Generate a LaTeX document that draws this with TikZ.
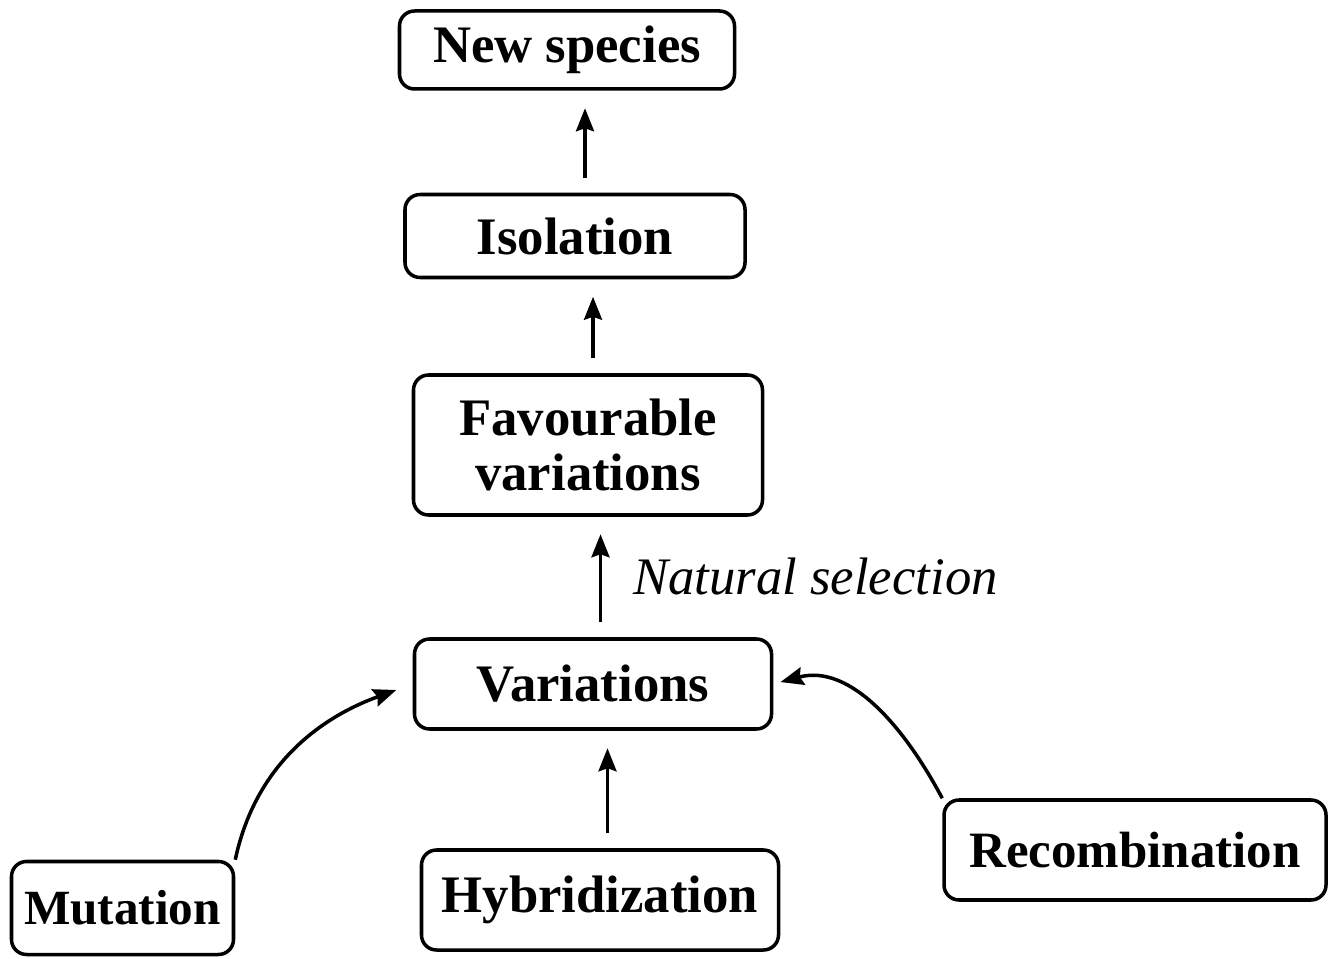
\documentclass[tikz,border=0pt]{standalone}
\usepackage{fontspec}
\setmainfont{Liberation Serif}
\usetikzlibrary{arrows.meta}

\begin{document}
\begin{tikzpicture}[
    box/.style={draw,line width=2pt,rounded corners=0.3cm,align=center,inner sep=0.2cm,
        font=\bfseries\fontsize{30}{31}\selectfont},
    arr/.style={line width=2pt,-{Stealth[length=0.46cm,width=0.36cm,inset=0.06cm]},
        shorten >=0.35cm,shorten <=0.3cm}
    ]
    \useasboundingbox (0,0) rectangle (26.68,-19.18);
    \node[box,minimum width=6.7cm,minimum height=1.56cm] (newsp) at (11.34,-1.0) {New species};
    \node[box,minimum width=6.8cm,minimum height=1.66cm] (isol) at (11.5,-4.72) {Isolation};
    \node[box,minimum width=6.98cm,minimum height=2.8cm] (fav) at (11.76,-8.9) {Favourable\\variations};
    \node[box,minimum width=7.14cm,minimum height=1.8cm] (var) at (11.86,-13.68) {Variations};
    \node[box,minimum width=4.44cm,minimum height=1.86cm,font=\bfseries\fontsize{28}{30}\selectfont] (mut) at (2.45,-18.16) {Mutation};
    \node[box,minimum width=7.14cm,minimum height=2.0cm] (hyb) at (12.0,-18.0) {Hybridization};
    \node[box,minimum width=7.64cm,minimum height=2.0cm,font=\bfseries\fontsize{29}{30}\selectfont] (rec) at (22.7,-17.0) {Recombination};

    \draw[arr] ([xshift=0.2cm]isol.north) -- ([xshift=0.2cm]isol.north |- newsp.south);
    \draw[arr] ([xshift=0.1cm]fav.north) -- ([xshift=0.1cm]fav.north |- isol.south);
    \draw[arr] ([xshift=0.15cm]var.north) -- ([xshift=0.15cm]var.north |- fav.south)
        node[midway,right=0.5cm,font=\itshape\fontsize{30}{31}\selectfont] (ns) {Natural selection};
    \draw[arr] ([xshift=0.15cm]hyb.north) -- ([xshift=0.15cm]hyb.north |- var.south);
    \draw[arr,shorten <=0pt] (mut.north east) to[out=78,in=200] (var.west);
    \draw[arr,shorten <=0pt,shorten >=0.15cm] (rec.north west) to[out=118,in=15] (var.east);
\end{tikzpicture}
\end{document}
